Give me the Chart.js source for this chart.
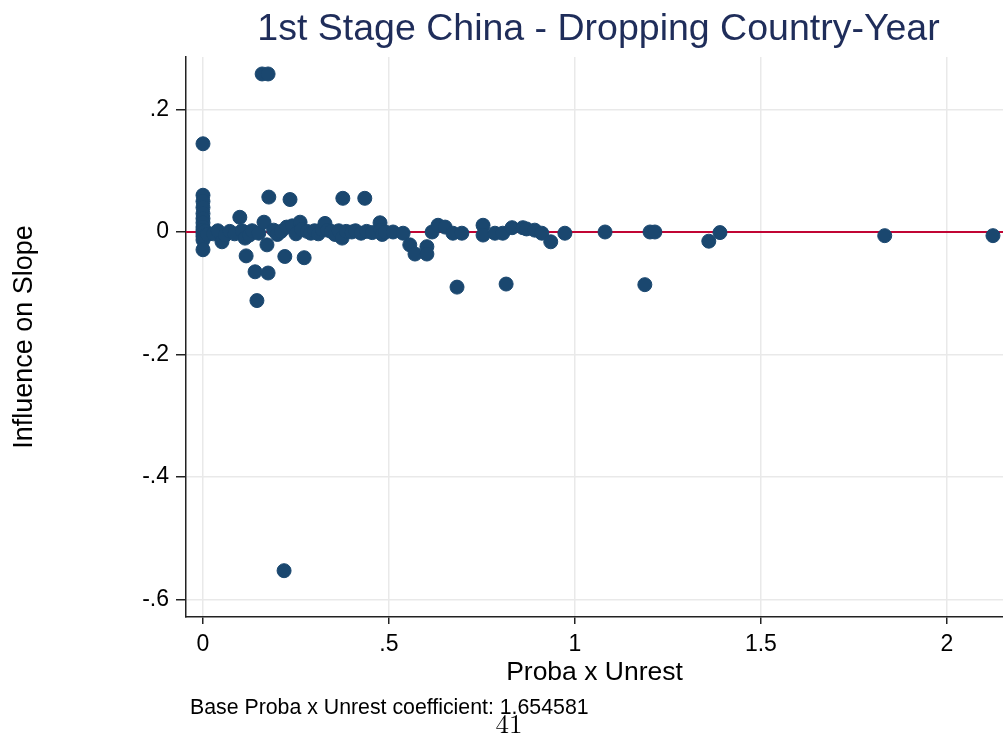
<!DOCTYPE html>
<html>
<head>
<meta charset="utf-8">
<script src="https://cdn.jsdelivr.net/npm/chart.js@4.4.0/dist/chart.umd.min.js"></script>
<style>
html, body { margin: 0; padding: 0; background: #fff; overflow: hidden; }
canvas { display: block; }
</style>
</head>
<body>
<canvas id="influenceChart" width="1003" height="736"></canvas>
<script>
// Data
const probaUnrest = [
    0, 0, 0, 0, 0, 0, 0, 0, 0, 0, 0, 0, 0, 0.006, 0.012,
    0.159, 0.175, 0.028, 0.040, 0.051, 0.060, 0.072, 0.085, 0.099, 0.105,
    0.113, 0.116, 0.125, 0.132, 0.140, 0.145, 0.150, 0.164, 0.172, 0.175,
    0.177, 0.190, 0.200, 0.210, 0.218, 0.220, 0.225, 0.234, 0.240, 0.250,
    0.261, 0.265, 0.272, 0.280, 0.290, 0.300, 0.310, 0.320, 0.328, 0.335,
    0.345, 0.355, 0.365, 0.374, 0.376, 0.385, 0.400, 0.410, 0.425, 0.435,
    0.440, 0.455, 0.476, 0.478, 0.482, 0.490, 0.511, 0.538, 0.556, 0.570,
    0.602, 0.602, 0.616, 0.632, 0.651, 0.672, 0.683, 0.696, 0.753, 0.753,
    0.785, 0.806, 0.815, 0.831, 0.860, 0.870, 0.892, 0.911, 0.935, 0.973,
    1.081, 1.188, 1.202, 1.215, 1.360, 1.390, 1.833, 2.124
];
const influence = [
    0.144, 0.060, 0.050, 0.040, 0.030, 0.022, 0.015, 0.008, 0.003, -0.002, -0.007, -0.013, -0.029, 0.001, -0.004,
    0.258, 0.258, -0.003, 0.002, -0.016, -0.005, 0.001, -0.003, 0.024, 0.002,
    -0.010, -0.039, -0.005, 0.002, -0.065, -0.112, -0.002, 0.016, -0.021, -0.067,
    0.057, 0.003, -0.004, 0.001, -0.553, -0.040, 0.008, 0.053, 0.010, -0.003,
    0.016, 0.004, -0.042, 0.001, -0.002, 0.002, -0.003, 0.004, 0.014, 0.003,
    0.001, -0.004, 0.002, -0.010, 0.055, 0.001, 0.000, 0.002, -0.002, 0.055,
    0.001, -0.001, 0.015, 0.003, -0.004, 0.000, 0.000, -0.002, -0.021, -0.036,
    -0.024, -0.036, 0.000, 0.011, 0.008, -0.002, -0.090, -0.002, 0.011, -0.005,
    -0.002, -0.002, -0.085, 0.007, 0.007, 0.005, 0.003, -0.002, -0.016, -0.002,
    0.000, -0.086, 0.000, 0.000, -0.015, -0.001, -0.006, -0.006
];
const xTicks = [0, 0.5, 1, 1.5, 2];
const yTicks = [-0.6, -0.4, -0.2, 0, 0.2];
const xLimits = [-0.0457, 2.151];
const yLimits = [-0.6286, 0.2857];
const refLine = 0;

const titleText = '1st Stage China - Dropping Country-Year';
const noteText = 'Base Proba x Unrest coefficient: 1.654581';
const pageNumber = '41';

const FONT = '"Liberation Sans", Arial, Helvetica, sans-serif';

// Stata style labels: .5, -.2 ...
function stataLabel(v) {
    if (v === 0) return '0';
    return String(v).replace('0.', '.');
}

const scatterPoints = probaUnrest.map((x, i) => ({ x: x, y: influence[i] }));
const zeroLine = xLimits.map(x => ({ x: x, y: refLine }));

// extra texts: title, note, page number
const extraText = {
    id: 'extraText',
    afterDraw(chart) {
        const ctx = chart.ctx;
        const area = chart.chartArea;
        ctx.save();
        ctx.fillStyle = '#1f2d5a';
        ctx.font = '37.5px ' + FONT;
        ctx.textAlign = 'center';
        ctx.textBaseline = 'middle';
        ctx.fillText(titleText, (area.left + area.right) / 2 + 4, 30);

        ctx.fillStyle = '#000';
        ctx.font = '21.3px ' + FONT;
        ctx.textAlign = 'left';
        ctx.textBaseline = 'alphabetic';
        ctx.fillText(noteText, 190, 714);

        ctx.font = '27px "Latin Modern Roman", "DejaVu Serif", "Liberation Serif", serif';
        ctx.textAlign = 'center';
        ctx.fillText(pageNumber, 509, 733);
        ctx.restore();
    }
};

const ctx = document.getElementById('influenceChart').getContext('2d');
new Chart(ctx, {
    type: 'scatter',
    data: {
        datasets: [
            {
                label: 'Influence',
                data: scatterPoints,
                backgroundColor: '#1a476f',
                borderColor: '#1a476f',
                pointRadius: 7,
                pointHoverRadius: 7,
                order: 1
            },
            {
                type: 'line',
                label: 'zero',
                data: zeroLine,
                borderColor: '#c10534',
                borderWidth: 2.2,
                pointRadius: 0,
                fill: false,
                order: 2
            }
        ]
    },
    options: {
        responsive: false,
        animation: false,
        layout: {
            autoPadding: false,
            padding: { top: 57, right: 0, left: 0, bottom: 0 }
        },
        plugins: {
            legend: { display: false },
            tooltip: { enabled: false }
        },
        scales: {
            x: {
                type: 'linear',
                min: xLimits[0],
                max: xLimits[1],
                afterBuildTicks: (s) => { s.ticks = xTicks.map(v => ({ value: v })); },
                afterFit: (s) => {
                    s.height = 119;
                    s.paddingLeft = 0;
                    s.paddingRight = 0;
                },
                ticks: {
                    color: '#000',
                    font: { family: FONT, size: 23 },
                    padding: 7,
                    maxRotation: 0,
                    callback: (v) => stataLabel(v)
                },
                grid: {
                    color: '#e9e9e9',
                    lineWidth: 1.5,
                    tickLength: 7,
                    tickColor: '#222',
                    tickWidth: 1.5
                },
                border: { color: '#222', width: 1.5 },
                title: {
                    display: true,
                    text: 'Proba x Unrest',
                    color: '#000',
                    font: { family: FONT, size: 26.5 },
                    padding: { top: 0, bottom: 47 }
                }
            },
            y: {
                type: 'linear',
                min: yLimits[0],
                max: yLimits[1],
                afterBuildTicks: (s) => { s.ticks = yTicks.map(v => ({ value: v })); },
                afterFit: (s) => {
                    s.width = 186;
                    s.paddingTop = 0;
                    s.paddingBottom = 0;
                },
                ticks: {
                    color: '#000',
                    font: { family: FONT, size: 23 },
                    padding: 7,
                    callback: (v) => stataLabel(v)
                },
                grid: {
                    color: '#e9e9e9',
                    lineWidth: 1.5,
                    tickLength: 10,
                    tickColor: '#222',
                    tickWidth: 1.5
                },
                border: { color: '#222', width: 1.5 },
                title: {
                    display: true,
                    text: 'Influence on Slope',
                    color: '#000',
                    font: { family: FONT, size: 27 },
                    padding: { top: 8, bottom: 0 }
                }
            }
        }
    },
    plugins: [extraText]
});
</script>
</body>
</html>
